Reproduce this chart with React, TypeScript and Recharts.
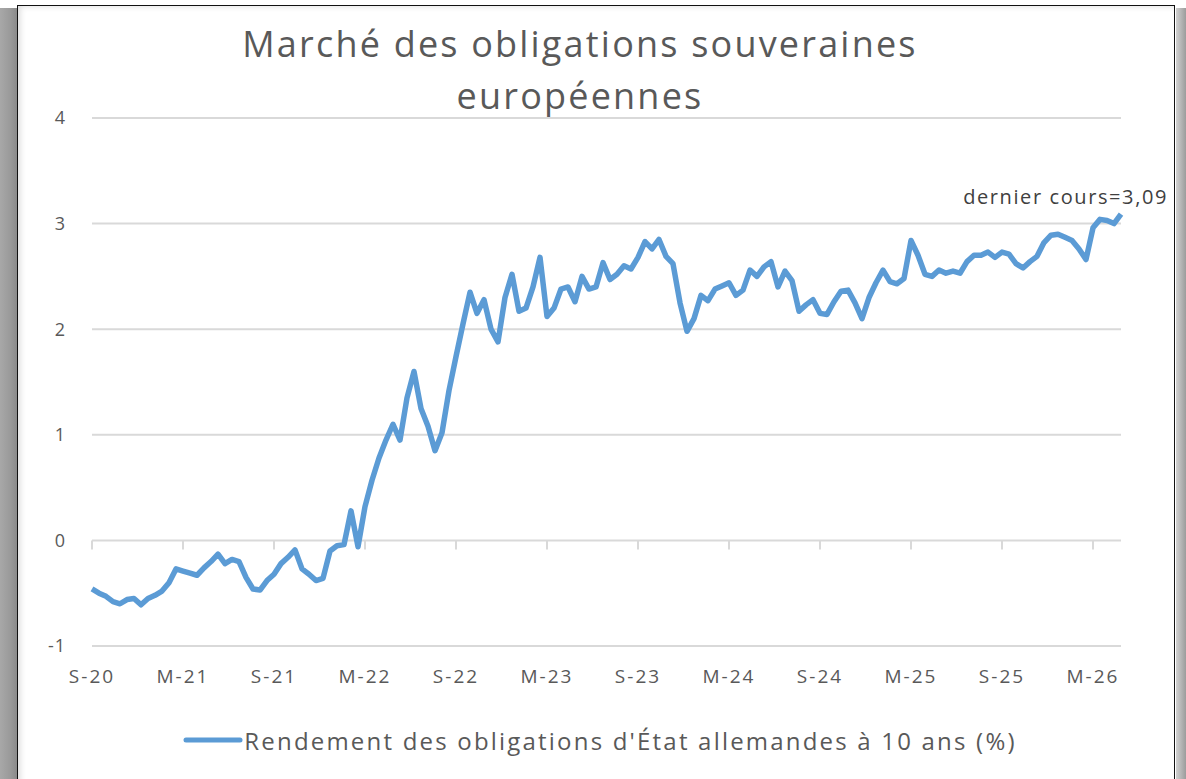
import React from 'react';
import { LineChart, Line, XAxis, YAxis, CartesianGrid, ReferenceLine, ReferenceDot, Legend } from 'recharts';

// Rendement du Bund 10 ans, un point toutes les deux semaines
const yields = [
    -0.46, -0.50, -0.53, -0.58, -0.60, -0.56, -0.55, -0.61, -0.55, -0.52, -0.48, -0.40, -0.27,
    -0.29, -0.31, -0.33, -0.26, -0.20, -0.13, -0.22, -0.18, -0.20, -0.35, -0.46, -0.47, -0.38,
    -0.32, -0.22, -0.16, -0.09, -0.27, -0.32, -0.38, -0.36, -0.10, -0.05, -0.04, 0.28, -0.06,
    0.32, 0.57, 0.78, 0.95, 1.10, 0.95, 1.35, 1.60, 1.25, 1.08, 0.85, 1.02, 1.42,
    1.74, 2.05, 2.35, 2.15, 2.28, 2.00, 1.88, 2.30, 2.52, 2.17, 2.20, 2.40, 2.68,
    2.12, 2.20, 2.38, 2.40, 2.26, 2.50, 2.38, 2.40, 2.63, 2.47, 2.52, 2.60, 2.57,
    2.68, 2.83, 2.76, 2.85, 2.69, 2.62, 2.25, 1.98, 2.10, 2.32, 2.27, 2.38, 2.41,
    2.44, 2.32, 2.37, 2.56, 2.50, 2.59, 2.64, 2.40, 2.55, 2.46, 2.17, 2.23, 2.28,
    2.15, 2.14, 2.26, 2.36, 2.37, 2.25, 2.10, 2.30, 2.44, 2.56, 2.45, 2.43, 2.48,
    2.84, 2.70, 2.52, 2.50, 2.56, 2.53, 2.55, 2.53, 2.64, 2.70, 2.70, 2.73, 2.68,
    2.73, 2.71, 2.62, 2.58, 2.64, 2.69, 2.82, 2.89, 2.90, 2.87, 2.84, 2.76, 2.66,
    2.96, 3.04, 3.03, 3.00, 3.09,
];

const tickLabels = ['S-20', 'M-21', 'S-21', 'M-22', 'S-22', 'M-23', 'S-23', 'M-24', 'S-24', 'M-25', 'S-25', 'M-26'];
const pointsPerTick = 13;
const yTicks = [-1, 0, 1, 2, 3, 4];

const seriesName = "Rendement des obligations d'État allemandes à 10 ans (%)";
const chartTitle = ['Marché des obligations souveraines', 'européennes'];

const BLUE = '#5B9BD5';
const TEXT = '#595959';
const GRID = '#d9d9d9';
const FONT = '"Open Sans", sans-serif';

const data = yields.map((v, i) => ({ i, v }));
const tickIdx = tickLabels.map((_, k) => k * pointsPerTick);
const lastIdx = yields.length - 1;
const lastVal = yields[lastIdx];

const LegendContent = () => (
    <div style={{ display: 'flex', alignItems: 'center', justifyContent: 'center', height: 40, paddingLeft: 14 }}>
        <svg width={60} height={10} style={{ marginRight: 1 }}>
            <line x1={3} y1={5} x2={57} y2={5} stroke={BLUE} strokeWidth={5} strokeLinecap="round" />
        </svg>
        <span style={{ fontFamily: FONT, fontSize: 24, letterSpacing: 2.2, color: TEXT, whiteSpace: 'nowrap' }}>{seriesName}</span>
    </div>
);

const App: React.FC = () => {
    return (
        <div style={{ position: 'fixed', left: 0, top: 0, width: 1186, height: 779, overflow: 'hidden', background: '#fff' }}>
            <div style={{ position: 'absolute', left: 0, top: 8, width: 17, height: 771, background: 'linear-gradient(to right, #a8a8a8, #9a9a9a 60%, #8a8a8a)' }} />
            <div style={{ position: 'absolute', left: 1176, top: 8, width: 10, height: 771, background: 'linear-gradient(to right, #d0d0d0, #9c9c9c)' }} />
            <div
                style={{
                    position: 'absolute', left: 17, top: 5, width: 1156, height: 790,
                    border: '1.5px solid #111', background: '#fff',
                    boxShadow: 'inset 6px 4px 6px -4px rgba(0,0,0,0.15)',
                }}
            />
            <div
                style={{
                    position: 'absolute', left: 0, top: 18, width: 1160, textAlign: 'center',
                    fontFamily: FONT, fontSize: 36, letterSpacing: 2.2, lineHeight: '52px', color: TEXT,
                }}
            >
                {chartTitle.map((t) => <div key={t}>{t}</div>)}
            </div>
            <div style={{ position: 'absolute', left: 0, top: 0 }}>
                <LineChart width={1186} height={779} data={data} margin={{ top: 118, right: 65, bottom: 63, left: 32 }}>
                    <CartesianGrid vertical={false} stroke={GRID} strokeWidth={2} />
                    <XAxis
                        dataKey="i"
                        type="number"
                        domain={[0, lastIdx]}
                        ticks={tickIdx}
                        tickFormatter={(v: number) => tickLabels[Math.round(v / pointsPerTick)] ?? ''}
                        axisLine={false}
                        tickLine={false}
                        tickSize={0}
                        tickMargin={24}
                        height={30}
                        tick={{ fill: TEXT, fontSize: 19, fontFamily: FONT, letterSpacing: 2 }}
                        interval={0}
                    />
                    <YAxis
                        domain={[-1, 4]}
                        ticks={yTicks}
                        axisLine={false}
                        tickLine={false}
                        tickSize={0}
                        tickMargin={26}
                        width={60}
                        tick={{ fill: TEXT, fontSize: 18, fontFamily: FONT, letterSpacing: 1 }}
                    />
                    {tickIdx.map((t) => (
                        <ReferenceLine
                            key={t}
                            segment={[{ x: t, y: 0 }, { x: t, y: -0.085 }]}
                            stroke={GRID}
                            strokeWidth={2}
                        />
                    ))}
                    <Line
                        type="linear"
                        dataKey="v"
                        name={seriesName}
                        stroke={BLUE}
                        strokeWidth={5.5}
                        strokeLinejoin="round"
                        dot={false}
                        isAnimationActive={false}
                    />
                    <ReferenceDot
                        x={lastIdx}
                        y={lastVal}
                        r={0}
                        stroke="none"
                        label={{
                            content: (p: any) => {
                                const vb = p.viewBox || {};
                                return (
                                    <text x={(vb.x ?? 0) + 47} y={(vb.y ?? 0) - 10} textAnchor="end" fill="#404040" fontSize={20} letterSpacing={1.6} fontFamily={FONT}>
                                        {`dernier cours=${lastVal.toFixed(2).replace('.', ',')}`}
                                    </text>
                                );
                            },
                        }}
                    />
                    <Legend
                        verticalAlign="bottom"
                        content={LegendContent}
                        wrapperStyle={{ top: 720, bottom: 'auto', left: 0, width: 1186 }}
                    />
                </LineChart>
            </div>
        </div>
    );
};

export default App;
